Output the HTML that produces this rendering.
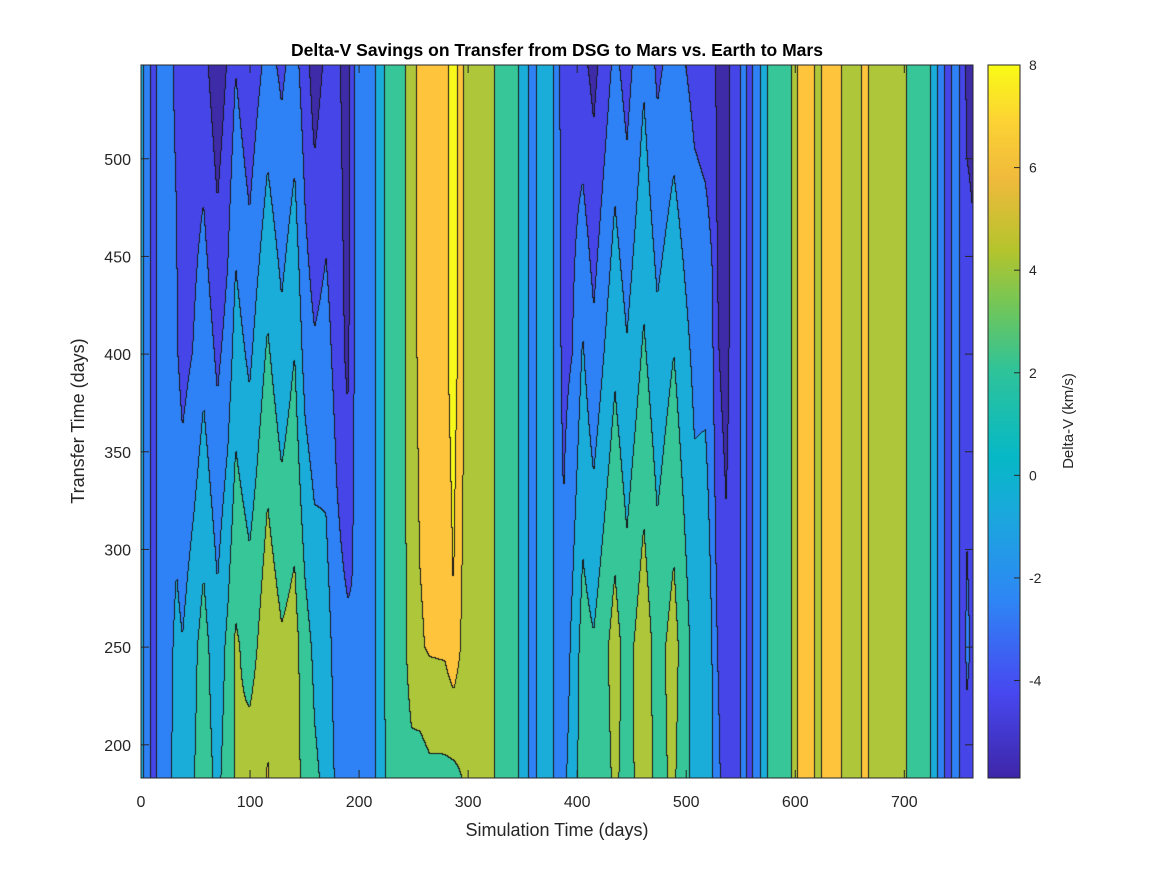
<!DOCTYPE html>
<html><head><meta charset="utf-8">
<style>
body{margin:0;background:#fff;width:1167px;height:875px;overflow:hidden;position:relative;font-family:"Liberation Sans",Arial,sans-serif;color:#262626}
#plot{position:absolute;left:141px;top:65px}
svg{position:absolute;left:0;top:0}
</style></head><body>
<canvas id="plot" width="832" height="713"></canvas>
<svg id="ov" width="1167" height="875"></svg>
<script>
// ---- data ----
const days = [0,6.4,12,17.4,26.6,33,38.5,48.6,57.8,70.6,80,87.2,100,107,116.5,129.4,141.3,151,159.6,170,180,190,194.5,199,212,219,228,237.6,248.6,256,265,279,287,294.5,299,311,322,329,343,351,360,367,376,381,388,396,405.5,415.6,435,446,461.5,474,489,508,518,524,529,537,543,548,553,558,565,571.5,579,595,599,604.6,616.5,621,626.6,639.4,646.8,657,664,672.5,699,705.5,722,727.5,734,740.4,747.7,754,758,763];
const z183 = [1,-1,-3,-1,-0.3,0.8,0.8,1.9,3.0,1.5,3,4.2,4.8,5,6.1,4.8,4.6,3.5,2.3,1.6,-0.5,-1.2,-1.5,-1,-1,1,2.5,3,3.5,3,3.5,3.5,3.5,4,4.5,5,4.5,3,3,1,-1,1,1,-1,-0.5,1,3,2.5,4.3,3.4,4.8,3.5,4.3,1.3,1.6,0.3,-1.5,-3,-3,-3,-1,-3,-1,1,3,3,5,6.8,6.8,5,6.8,6.8,5,5,6.8,5,5,3,3,1,-1,-3,-1,-3,-3,-3];
const z250 = [1,-1,-3,-1,-0.6,0.6,0.1,1.5,2.8,0.7,2.5,4.3,3.3,4,5.6,4.3,4.8,2.8,1.6,1.0,-1,-1.5,-1.8,-1,-1,1,3,3,4.8,5.8,6.2,6.3,7.2,5.8,5,5,4.5,3,3,1,-1,1,1,-1,-1.5,0.5,2.8,2.2,4.8,3.2,5.2,3.2,4.8,1.2,2.0,0,-2,-3.2,-3,-3,-1,-3,-1,1,3,3,5,6.8,6.8,5,6.8,6.8,5,5,6.8,5,5,3,3,1,-1,-3,-1,-3,-1.5,-2.5];
const z400 = [1,-1,-3,-1,-1.5,-1.8,-2.7,-1.9,-0.6,-2.4,-1.2,0.9,-0.4,0.8,2.3,0.6,2,-0.8,-1.7,-1.2,-2.8,-4.5,-2.5,-1,-1,1,3,3,5,6.5,6.8,7,7.8,6.8,5,5,4.5,3,3,1,-1,1,1,-1,-2.5,-2,0.2,-1.5,1.6,0.2,2.3,0.6,2,-0.5,-0.7,-1.5,-3.8,-4.8,-3,-3,-1,-3,-1,1,3,3,5,6.8,6.8,5,6.8,6.8,5,5,6.8,5,5,3,3,1,-1,-3,-1,-3,-3,-3.5];
const z548 = [1,-1,-3,-1,-1.8,-2.2,-3.3,-3.3,-3.3,-5.4,-3.8,-2.1,-3.6,-2.6,-1.3,-2.4,-1.2,-3.2,-5,-3.6,-3.5,-5,-2.5,-1,-1,1,3,3,5,6.5,6.8,7,7.8,6.8,5,5,4.5,3,3,1,-1,1,1,-1,-3,-3,-3.5,-4.6,-1.5,-2.8,-0.3,-2.4,-1.2,-2.6,-2.9,-3,-4.5,-5.5,-3,-3,-1,-3,-1,1,3,3,5,6.8,6.8,5,6.8,6.8,5,5,6.8,5,5,3,3,1,-1,-3,-1,-3,-4.5,-4.5];
const rowDays = [183,250,400,548];
const levels = [-4,-2,0,2,4,6,7.3];
const xTicks = [0,100,200,300,400,500,600,700];
const yTicks = [200,250,300,350,400,450,500];
const cTicks = [-4,-2,0,2,4,6,8];

const W=832,H=713,X0=141,Y0=65,XMAX=763,YMIN=183,YMAX=548;
const CMIN=-5.9,CMAX=8;
const fillCols=[[62,43,168],[69,69,232],[47,130,246],[26,173,218],[55,198,151],[173,198,58],[254,196,60],[248,249,26]];
const xs=d=>X0+d/XMAX*W, ys=t=>Y0+(YMAX-t)/(YMAX-YMIN)*H;
const rows=[z183,z250,z400,z548];
function val(d,t){
  let i=0;while(i<days.length-2&&days[i+1]<d)i++;
  let fx=(d-days[i])/(days[i+1]-days[i]);fx=Math.max(0,Math.min(1,fx));
  let r=0;while(r<rowDays.length-2&&rowDays[r+1]<t)r++;
  let fy=(t-rowDays[r])/(rowDays[r+1]-rowDays[r]);fy=Math.max(0,Math.min(1,fy));
  const a=rows[r][i]*(1-fx)+rows[r][i+1]*fx, b=rows[r+1][i]*(1-fx)+rows[r+1][i+1]*fx;
  return a*(1-fy)+b*fy;
}
function lev(v){let k=0;while(k<levels.length&&v>=levels[k])k++;return k;}
const cv=document.getElementById('plot'),ctx=cv.getContext('2d');
const img=ctx.createImageData(W,H);
const L=new Uint8Array(W*H);
for(let j=0;j<H;j++){const t=YMAX-(j+0.5)/H*(YMAX-YMIN);
 for(let i=0;i<W;i++){L[j*W+i]=lev(val((i+0.5)/W*XMAX,t));}}
for(let j=0;j<H;j++)for(let i=0;i<W;i++){
 const k=j*W+i,l=L[k];let c=fillCols[l];
 if((i<W-1&&L[k+1]!==l)||(j<H-1&&L[k+W]!==l))c=[25,25,25];
 img.data[k*4]=c[0];img.data[k*4+1]=c[1];img.data[k*4+2]=c[2];img.data[k*4+3]=255;}
ctx.putImageData(img,0,0);

const NS='http://www.w3.org/2000/svg',ov=document.getElementById('ov');
function el(tag,at,txt){const e=document.createElementNS(NS,tag);for(const k in at)e.setAttribute(k,at[k]);if(txt!==undefined)e.textContent=txt;ov.appendChild(e);return e;}
let e;
e=el('rect',{x:X0,y:Y0,width:W,height:H,fill:'none',stroke:'#262626','stroke-width':1});


xTicks.forEach(v=>{const x=xs(v);
 e=el('line',{x1:x,x2:x,y1:Y0+H,y2:Y0+H-8,stroke:'#262626'});
 
 
 e=el('line',{x1:x,x2:x,y1:Y0,y2:Y0+8,stroke:'#262626'});
 
 
 e=el('text',{x:x,y:807,'text-anchor':'middle','font-size':16,fill:'#262626'},String(v));
 
 });
yTicks.forEach(v=>{const y=ys(v);
 e=el('line',{x1:X0,x2:X0+8,y1:y,y2:y,stroke:'#262626'});
 
 
 e=el('line',{x1:X0+W,x2:X0+W-8,y1:y,y2:y,stroke:'#262626'});
 
 
 e=el('text',{x:131,y:y+6,'text-anchor':'end','font-size':16,fill:'#262626'},String(v));
 
 });
e=el('text',{x:557,y:56,'text-anchor':'middle','font-size':17.5,'font-weight':'bold',fill:'#000'},'Delta-V Savings on Transfer from DSG to Mars vs. Earth to Mars');


e=el('text',{x:557,y:836,'text-anchor':'middle','font-size':18,fill:'#262626'},'Simulation Time (days)');


e=el('text',{x:0,y:0,'text-anchor':'middle','font-size':18,fill:'#262626',transform:'translate(84,421) rotate(-90)'},'Transfer Time (days)');


// colorbar
const defs=el('defs',{});const g=document.createElementNS(NS,'linearGradient');
g.setAttribute('id','par');g.setAttribute('x1','0');g.setAttribute('y1','1');g.setAttribute('x2','0');g.setAttribute('y2','0');
[['0','#3e26a8'],['0.12','#4748f0'],['0.25','#2e86f5'],['0.37','#1aa8dc'],['0.45','#06b8c6'],['0.57','#2ec39a'],['0.66','#70c65a'],['0.74','#b4c42c'],['0.84','#f0ba3c'],['0.92','#fcd234'],['1','#f9fb15']].forEach(s=>{const st=document.createElementNS(NS,'stop');st.setAttribute('offset',s[0]);st.setAttribute('stop-color',s[1]);g.appendChild(st);});
defs.appendChild(g);
const cy=v=>Y0+(CMAX-v)/(CMAX-CMIN)*H;
e=el('rect',{x:988,y:Y0,width:32,height:H,fill:'url(#par)',stroke:'#262626','stroke-width':1});


cTicks.forEach(v=>{const y=cy(v);
 e=el('line',{x1:1020,x2:1014,y1:y,y2:y,stroke:'#262626'});
 
 
 e=el('text',{x:1029,y:y+5,'font-size':14,fill:'#262626'},String(v));
 
 });
e=el('text',{x:0,y:0,'text-anchor':'middle','font-size':15,fill:'#262626',transform:'translate(1073,421) rotate(-90)'},'Delta-V (km/s)');


</script>
</body></html>
